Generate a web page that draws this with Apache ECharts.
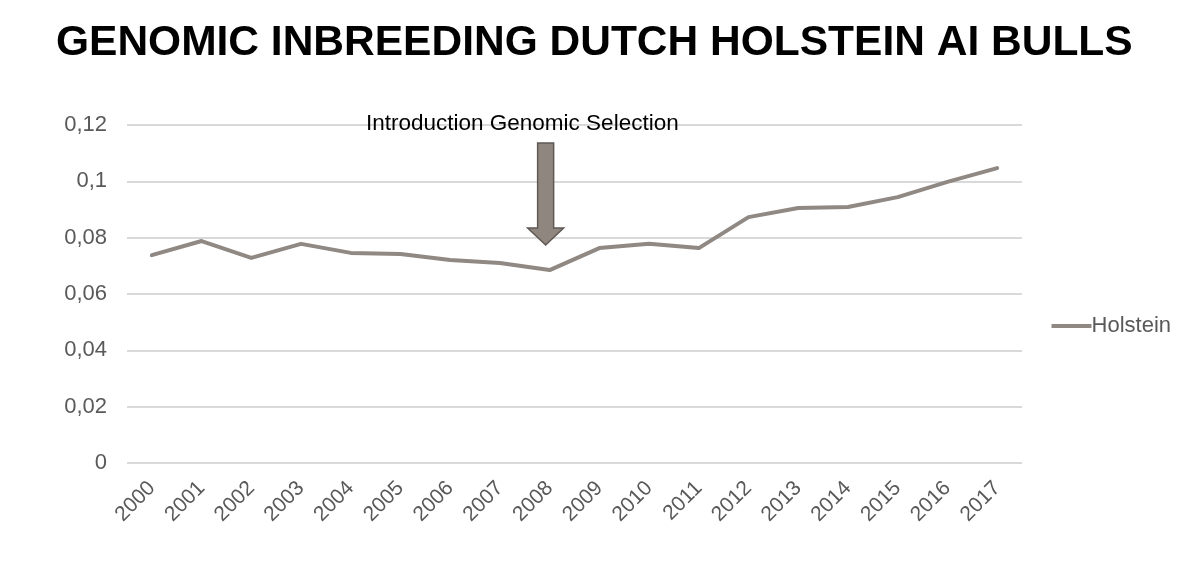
<!DOCTYPE html>
<html>
<head>
<meta charset="utf-8">
<script src="https://cdn.jsdelivr.net/npm/echarts@6/dist/echarts.min.js"></script>
<style>
  html, body { margin: 0; padding: 0; background: #fff; }
  #chart { width: 1200px; height: 573px; }
</style>
</head>
<body>
<div id="chart"></div>
<script>
  var years = ['2000', '2001', '2002', '2003', '2004', '2005', '2006', '2007', '2008',
    '2009', '2010', '2011', '2012', '2013', '2014', '2015', '2016', '2017']
  var holstein = [0.0738, 0.0788, 0.0728, 0.0778, 0.0746, 0.0742, 0.0721, 0.0710, 0.0685,
    0.0763, 0.0778, 0.0763, 0.0873, 0.0905, 0.0909, 0.0944, 0.0998, 0.1047]
  var yTicks = [0, 0.02, 0.04, 0.06, 0.08, 0.1, 0.12]
  var annotationYear = '2008'
  var annotationText = 'Introduction Genomic Selection'

  var chart = echarts.init(document.getElementById('chart'))

  chart.setOption({
    backgroundColor: '#ffffff',
    animation: false,
    textStyle: { fontFamily: 'Liberation Sans, Arial, sans-serif' },
    title: {
      text: 'GENOMIC INBREEDING DUTCH HOLSTEIN AI BULLS',
      left: 51,
      top: 17,
      textStyle: {
        fontSize: 42.5,
        fontWeight: 'bold',
        color: '#000000',
        fontFamily: 'Liberation Sans, Arial, sans-serif',
      },
    },
    legend: {
      right: 24,
      top: 310,
      orient: 'vertical',
      icon: 'path://M0,0 L40,0 L40,4 L0,4 Z',
      itemWidth: 40,
      itemHeight: 4,
      itemGap: 4,
      data: ['Holstein'],
      textStyle: { fontSize: 22, color: '#595959', padding: [0, 0, 0, -5] },
    },
    grid: {
      left: 127,
      right: 178,
      top: 125,
      bottom: 110,
    },
    xAxis: {
      type: 'category',
      data: years,
      boundaryGap: true,
      axisLine: { show: false },
      axisTick: { show: false },
      axisLabel: {
        rotate: 45,
        margin: 22,
        fontSize: 21,
        color: '#595959',
        interval: 0,
      },
    },
    yAxis: {
      type: 'value',
      min: 0,
      max: 0.12,
      interval: 0.02,
      axisLine: { show: false },
      axisTick: { show: false },
      axisLabel: {
        margin: 20,
        fontSize: 22,
        color: '#595959',
        formatter: function (v) {
          var t = yTicks.find(function (k) { return Math.abs(k - v) < 1e-9 })
          return String(t !== undefined ? t : v).replace('.', ',')
        },
      },
      splitLine: { lineStyle: { color: '#d9d9d9', width: 2 } },
    },
    series: [
      {
        name: 'Holstein',
        type: 'line',
        data: holstein,
        symbol: 'none',
        lineStyle: { color: '#8f8883', width: 4, cap: 'round', join: 'round' },
        itemStyle: { color: '#8f8883' },
      },
    ],
  })

  // annotation arrow above the chosen year
  var ax = chart.convertToPixel({ xAxisIndex: 0 }, annotationYear) - 4
  var tipY = 245
  chart.setOption({
    graphic: [
      {
        type: 'text',
        left: 366,
        top: 112,
        style: {
          text: annotationText,
          fontSize: 22.5,
          fill: '#000000',
          fontFamily: 'Liberation Sans, Arial, sans-serif',
        },
      },
      {
        type: 'polygon',
        shape: {
          points: [
            [ax - 8, 143], [ax + 8, 143], [ax + 8, 228], [ax + 18, 228],
            [ax, tipY], [ax - 18, 228], [ax - 8, 228],
          ],
        },
        style: { fill: '#8f8680', stroke: '#5f5855', lineWidth: 1.5 },
      },
    ],
  })
</script>
</body>
</html>
